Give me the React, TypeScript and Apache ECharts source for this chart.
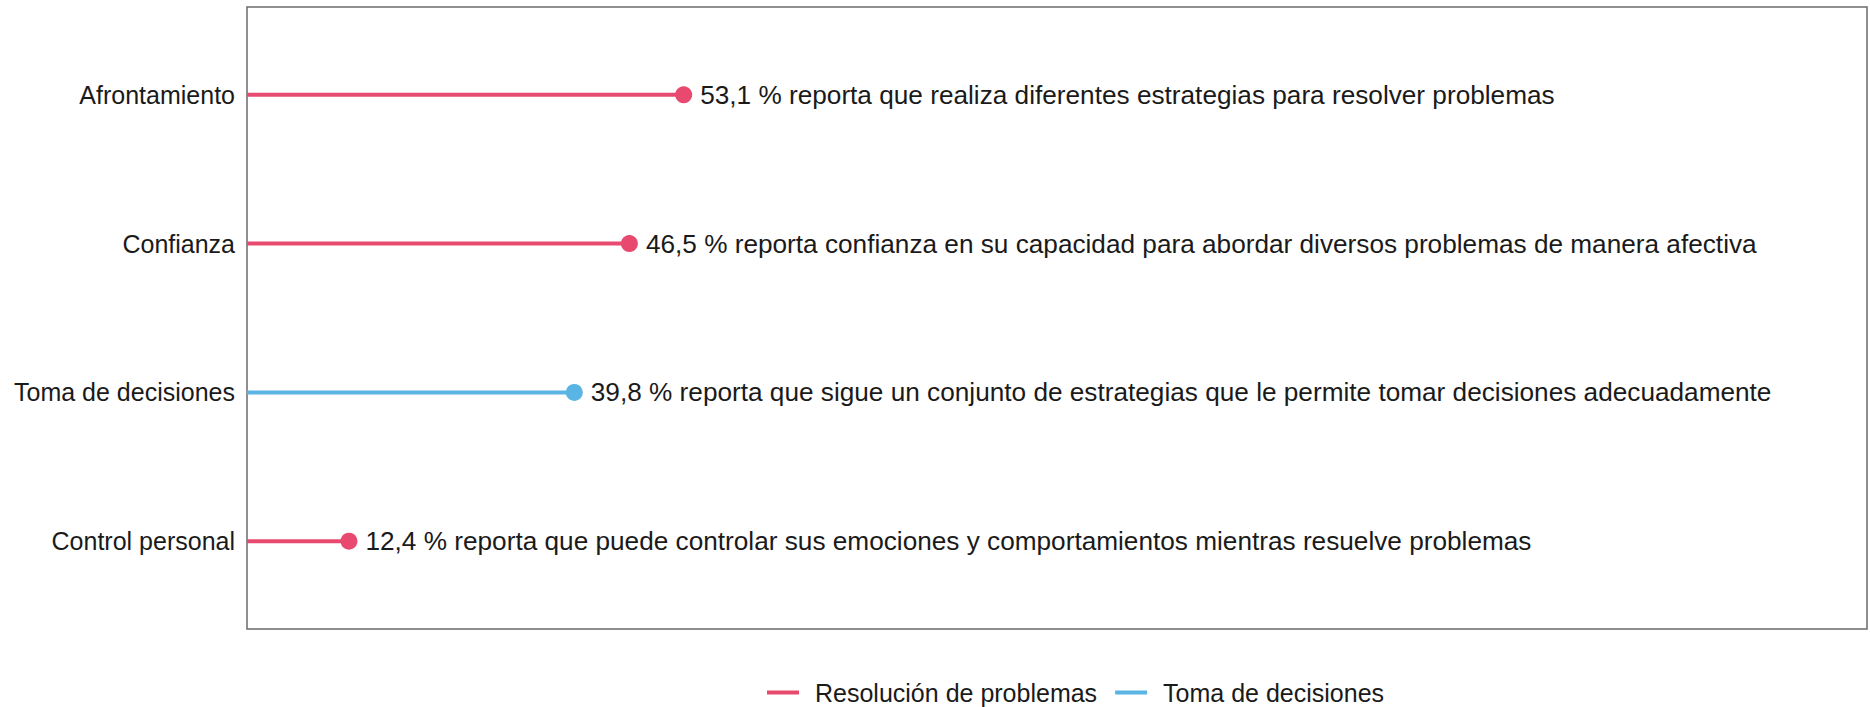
import React, { useEffect, useRef } from "react";
import * as echarts from "echarts";

// bottom to top
const categories = ["Control personal", "Toma de decisiones", "Confianza", "Afrontamiento"];
const values = [12.4, 39.8, 46.5, 53.1];
const groups = [
  "Resolución de problemas",
  "Toma de decisiones",
  "Resolución de problemas",
  "Resolución de problemas",
];
const descriptions = [
  "reporta que puede controlar sus emociones y comportamientos mientras resuelve problemas",
  "reporta que sigue un conjunto de estrategias que le permite tomar decisiones adecuadamente",
  "reporta confianza en su capacidad para abordar diversos problemas de manera afectiva",
  "reporta que realiza diferentes estrategias para resolver problemas",
];
const legendNames = ["Resolución de problemas", "Toma de decisiones"];
const groupColors: Record<string, string> = {
  "Resolución de problemas": "#E84A6F",
  "Toma de decisiones": "#5AB4E4",
};
const yTickValues = [0, 1, 2, 3];

const FONT = "Liberation Sans, Arial, sans-serif";
const fmt = (v: number) => v.toFixed(1).replace(".", ",");

export default function App() {
  const ref = useRef<HTMLDivElement>(null);
  useEffect(() => {
    if (!ref.current) return;
    const chart = echarts.init(ref.current, undefined, { renderer: "svg" });
    const series = values.map((v, i) => {
      const color = groupColors[groups[i]];
      return {
        type: "line",
        name: groups[i],
        data: [
          [0, i],
          [v, i],
        ],
        lineStyle: { width: 4, color },
        itemStyle: { color },
        symbol: "circle",
        showSymbol: true,
        symbolSize: (_val: any, p: any) => (p.dataIndex === 1 ? 17 : 0),
        label: {
          show: true,
          position: "right",
          distance: 8,
          fontFamily: FONT,
          fontSize: 26.2,
          color: "#1a1a1a",
          formatter: (p: any) => (p.dataIndex === 1 ? `${fmt(v)} % ${descriptions[i]}` : ""),
        },
        emphasis: { disabled: true },
        z: 3,
      };
    });
    chart.setOption({
      animation: false,
      textStyle: { fontFamily: FONT },
      grid: {
        left: 247,
        top: 7,
        right: 3,
        bottom: 78,
        outerBoundsMode: "none",
        show: true,
        borderColor: "#6b6b6b",
        borderWidth: 1.5,
        backgroundColor: "transparent",
      },
      legend: {
        data: legendNames.map((n) => ({ name: n, icon: "rect" })),
        left: 762,
        top: 675,
        itemWidth: 32,
        itemHeight: 4,
        itemGap: 18,
        textStyle: { fontFamily: FONT, fontSize: 25, color: "#1a1a1a", padding: [0, 0, 0, 11] },
      },
      xAxis: {
        type: "value",
        min: 0,
        max: 197,
        show: false,
        splitLine: { show: false },
      },
      yAxis: {
        type: "value",
        min: -0.59,
        max: 3.59,
        splitLine: { show: false },
        axisLine: { show: false },
        axisTick: { show: false },
        axisLabel: {
          customValues: yTickValues,
          formatter: (v: number) => categories[Math.round(v)] ?? "",
          fontFamily: FONT,
          fontSize: 25,
          color: "#1a1a1a",
          margin: 12,
        },
      },
      series,
    });
    return () => chart.dispose();
  }, []);
  return (
    <div
      ref={ref}
      style={{ position: "fixed", left: 0, top: 0, width: 1870, height: 707, background: "#fff" }}
    />
  );
}
